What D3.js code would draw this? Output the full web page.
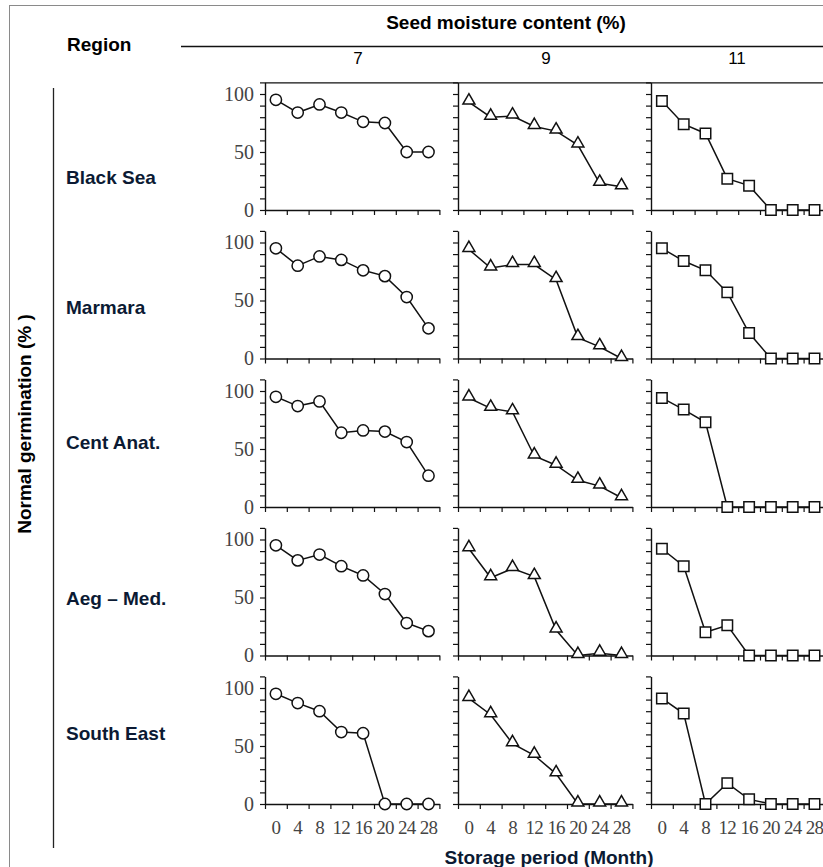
<!DOCTYPE html>
<html>
<head>
<meta charset="utf-8">
<script src="https://cdn.jsdelivr.net/npm/d3@7"></script>
<style>
  body { margin: 0; background: #fff; }
  svg { display: block; }
</style>
</head>
<body>
<div id="chart"></div>
<script>
"use strict"
// Data
var months = [0, 4, 8, 12, 16, 20, 24, 28];
var regions = ["Black Sea", "Marmara", "Cent Anat.", "Aeg \u2013 Med.", "South East"];
var moistures = ["7", "9", "11"];

// normal germination (%) per region, one array per moisture content
var mc7 = [
  [95, 84, 91, 84, 76, 75, 50, 50],
  [95, 80, 88, 85, 76, 71, 53, 26],
  [95, 87, 91, 64, 66, 65, 56, 27],
  [95, 82, 87, 77, 69, 53, 28, 21],
  [95, 87, 80, 62, 61, 0, 0, 0]
];
var mc9 = [
  [93, 80, 81, 72, 68, 56, 23, 20],
  [94, 78, 81, 81, 68, 18, 10, 0],
  [94, 85, 82, 44, 36, 23, 18, 8],
  [92, 67, 75, 68, 22, 0, 2, 0],
  [91, 77, 52, 42, 26, 0, 0, 0]
];
var mc11 = [
  [94, 74, 66, 27, 21, 0, 0, 0],
  [95, 84, 76, 57, 22, 0, 0, 0],
  [94, 84, 73, 0, 0, 0, 0, 0],
  [92, 77, 20, 26, 0, 0, 0, 0],
  [91, 78, 0, 18, 4, 0, 0, 0]
];
var series = [mc7, mc9, mc11];
var yTicks = [0, 50, 100];

// Layout
var width = 823, height = 867;
var colX = [265, 458, 651];      // y-axis position of each column
var rowZero = [210, 358.5, 507, 655.5, 804]; // y of the 0 line per row
var plotW = 174.4, plotH = 127.6;
var labelY = [177, 307, 442, 598, 733];
var serif = "'Liberation Serif', 'Times New Roman', serif";
var sans = "'Liberation Sans', Arial, sans-serif";

var svg = d3.select("#chart").append("svg")
    .attr("width", width)
    .attr("height", height);

// outer frame
svg.append("rect")
    .attr("x", 9.5).attr("y", 5.5)
    .attr("width", 900).attr("height", 900)
    .attr("fill", "none").attr("stroke", "#8a8a8a").attr("stroke-width", 1);

// header
svg.append("text")
    .attr("x", 506).attr("y", 29)
    .attr("text-anchor", "middle")
    .style("font", "bold 19px " + sans)
    .text("Seed moisture content (%)");

svg.append("text")
    .attr("x", 67).attr("y", 51)
    .style("font", "bold 19px " + sans)
    .text("Region");

svg.append("line")
    .attr("x1", 181).attr("x2", width)
    .attr("y1", 46.5).attr("y2", 46.5)
    .attr("stroke", "#111").attr("stroke-width", 1.3);

// left bracket line and y title
svg.append("line")
    .attr("x1", 53.5).attr("x2", 53.5)
    .attr("y1", 88).attr("y2", 848)
    .attr("stroke", "#222").attr("stroke-width", 1.3);

svg.append("text")
    .attr("transform", "translate(31,424) rotate(-90)")
    .attr("text-anchor", "middle")
    .style("font", "bold 19px " + sans)
    .text("Normal germination (% )");

svg.append("text")
    .attr("x", 549).attr("y", 864)
    .attr("text-anchor", "middle")
    .style("font", "bold 19px " + sans)
    .attr("fill", "#0b1a33")
    .text("Storage period (Month)");

var x = d3.scaleBand().domain(months).range([0, plotW]).padding(0);
var xEdge = d3.scaleLinear().domain([0, months.length]).range([0, plotW]);
var y = d3.scaleLinear().domain([0, 110]).range([plotH, 0]);

var line = d3.line()
    .x(function(d, i) { return x(months[i]) + x.bandwidth() / 2; })
    .y(function(d) { return y(d); });

var shapes = [
  d3.symbol().type(d3.symbolCircle).size(100),
  d3.symbol().type(d3.symbolTriangle).size(62),
  d3.symbol().type(d3.symbolSquare).size(110)
];

// column headers
var headX = [358, 546, 737];
moistures.forEach(function(m, c) {
  svg.append("text")
      .attr("x", headX[c]).attr("y", 64)
      .attr("text-anchor", "middle")
      .style("font", "17px " + sans)
      .text(m);
});

regions.forEach(function(r, ri) {
  svg.append("text")
      .attr("x", 66).attr("y", labelY[ri] + 7)
      .style("font", "bold 19px " + sans)
      .attr("fill", "#0b1a33")
      .text(r);

  if (ri === 0) {
    // top border across the first row
    svg.append("line")
        .attr("x1", colX[0]).attr("x2", width)
        .attr("y1", rowZero[0] - plotH + 0.5).attr("y2", rowZero[0] - plotH + 0.5)
        .attr("stroke", "#111").attr("stroke-width", 1.3);
  }

  series.forEach(function(s, c) {
    var g = svg.append("g")
        .attr("transform", "translate(" + colX[c] + "," + (rowZero[ri] - plotH) + ")");

    // y axis
    var yAxis = d3.axisLeft(y).tickValues(d3.range(0, 111, 10)).tickSize(5).tickSizeOuter(0)
        .tickFormat(function(d) { return (c === 0 && yTicks.indexOf(d) >= 0) ? d : ""; });
    var ya = g.append("g").attr("class", "y axis").call(yAxis);
    ya.select(".domain").attr("stroke", "#111").attr("stroke-width", 1.4);
    ya.selectAll(".tick line").attr("stroke", "#111").attr("stroke-width", 1.2);
    ya.selectAll(".tick text")
        .attr("x", -11)
        .style("font", "20px " + serif)
        .attr("fill", "#444");

    // x axis with ticks on category edges
    var xAxis = d3.axisBottom(xEdge).tickValues(d3.range(0, months.length + 1)).tickSize(5)
        .tickSizeOuter(0).tickFormat("");
    var xa = g.append("g").attr("class", "x axis")
        .attr("transform", "translate(0," + plotH + ")")
        .call(xAxis);
    xa.select(".domain").attr("stroke", "#111").attr("stroke-width", 1.4);
    xa.selectAll(".tick line").attr("stroke", "#111").attr("stroke-width", 1.2);

    if (ri === regions.length - 1) {
      var lab = g.append("g")
          .attr("transform", "translate(0," + plotH + ")")
          .call(d3.axisBottom(x).tickSize(0).tickPadding(17));
      lab.select(".domain").remove();
      lab.selectAll("text")
          .style("font", "19px " + serif)
          .attr("fill", "#444")
          .attr("letter-spacing", "-0.8px");
    }

    var vals = s[ri];
    g.append("path")
        .datum(vals)
        .attr("fill", "none")
        .attr("stroke", "#111")
        .attr("stroke-width", 1.5)
        .attr("d", line);

    g.selectAll(".pt")
        .data(vals)
        .enter().append("path")
        .attr("class", "pt")
        .attr("transform", function(d, i) {
          var dy = c === 1 ? -1.5 : 0;
          return "translate(" + (x(months[i]) + x.bandwidth() / 2) + "," + (y(d) + dy) + ")";
        })
        .attr("d", shapes[c])
        .attr("fill", "#fff")
        .attr("stroke", "#111")
        .attr("stroke-width", 1.5);
  });
});
</script>
</body>
</html>
